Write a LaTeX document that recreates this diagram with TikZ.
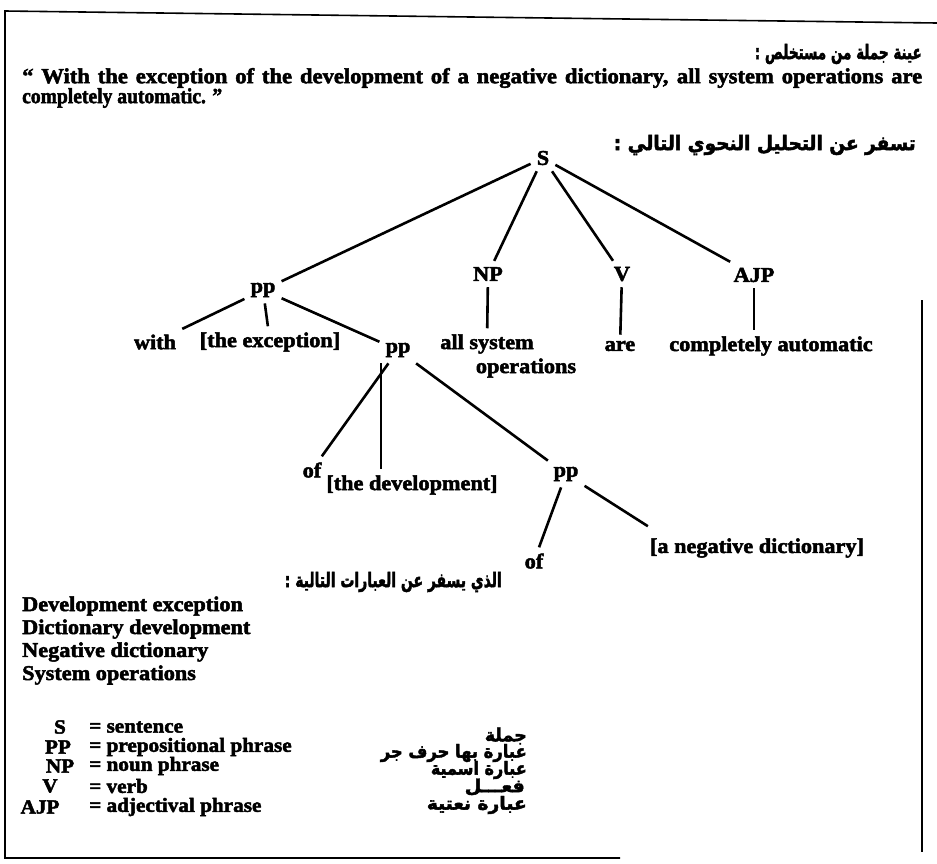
\documentclass[tikz,border=0pt]{standalone}
\usepackage{fontspec}
\usepackage{graphicx}
\setmainfont{Liberation Serif}[FakeStretch=1.06, FakeBold=2.4]
\newfontfamily\qfont{Liberation Serif}[FakeStretch=1.05, FakeBold=2.4]
\newfontfamily\arabicfont[Script=Arabic, FakeBold=2.4]{DejaVu Sans}
\TeXXeTstate=1
\newcommand{\arw}[2]{\resizebox{#1}{\height}{\arabicfont\bfseries #2}}
\begin{document}
\begin{tikzpicture}[x=1pt,y=-1pt,
  every node/.style={font=\fontsize{21}{23}\selectfont\bfseries, inner sep=0pt},
  lbl/.style={inner sep=6pt},
  edge/.style={line width=2.6pt},
  frame/.style={line width=1.6pt},
  quote/.style={font=\fontsize{21.5}{23}\selectfont\qfont\bfseries, anchor=west},
  ar/.style={font=\fontsize{20}{22}\selectfont, anchor=east},
  arl/.style={font=\fontsize{18}{20}\selectfont, anchor=east}]
\useasboundingbox (0,0) rectangle (937,863);
% frame
\coordinate (f1) at (5,11);
\coordinate (f2) at (937,23);
\coordinate (f3) at (5,858);
\coordinate (f4) at (620,858);
\coordinate (f5) at (922,300);
\coordinate (f6) at (922,852);
\draw[frame] (f2) -- (f1) -- (f3) -- (f4);
\draw[frame] (f5) -- (f6);
% header
\node[ar] (h1) at (922,54) {\arw{167pt}{\beginR عينة جملة من مستخلص :\endR}};
\node[quote] (q1) at (22,78) {\makebox[900pt][s]{“ With the exception of the development of a negative dictionary, all system operations are}};
\node[quote] (q2) at (22,98) {\resizebox{200pt}{\height}{completely automatic. ”}};
\node[ar] (h2) at (916,145) {\arw{302pt}{\beginR تسفر عن التحليل النحوي التالي :\endR}};
% tree
\node[lbl] (S) at (543,158) {S};
\node[lbl] (pp1) at (263,290) {pp};
\node[lbl] (NP) at (488,274) {NP};
\node[lbl] (V) at (622,274) {V};
\node[lbl] (AJP) at (754,275) {AJP};
\node[lbl] (with) at (155,342) {with};
\node[lbl] (exc) at (270,342) {[the exception]};
\node[lbl] (pp2) at (398,350) {pp};
\node[lbl] (alls) at (487,344) {all system};
\node (ops) at (526,368) {operations};
\node[lbl] (are) at (620,346) {are};
\node[lbl] (ca) at (771,346) {completely automatic};
\node[lbl] (of1) at (312,470) {of};
\node[lbl] (dev) at (412,485) {[the development]};
\node[lbl] (pp3) at (566,474) {pp};
\node[lbl] (of2) at (534,561) {of};
\node[lbl] (neg) at (757,548) {[a negative dictionary]};
\draw[edge] (S) -- (pp1);
\draw[edge] (S) -- (NP);
\draw[edge] (S) -- (V);
\draw[edge] (S) -- (AJP);
\draw[edge] (pp1) -- (with);
\draw[edge] (pp1) -- (exc);
\draw[edge] (pp1) -- (pp2);
\draw[edge] (NP) -- (alls);
\draw[edge] (V) -- (are);
\draw[edge] (AJP.south) -- (AJP.south |- ca.north);
\draw[edge] (pp2) -- (of1);
\draw[edge] ([xshift=-17pt]pp2.south) -- ([xshift=-17pt]pp2.south |- dev.north);
\draw[edge] (pp2) -- (pp3);
\draw[edge] (pp3) -- (of2);
\draw[edge] (pp3) -- ([xshift=4pt,yshift=6pt]neg.north west);
% phrases
\node[ar] (h3) at (502,582) {\arw{217pt}{\beginR الذي يسفر عن العبارات التالية :\endR}};
\node[anchor=west] (l1) at (22,606) {Development exception};
\node[anchor=west] (l2) at (22,629) {Dictionary development};
\node[anchor=west] (l3) at (22,652) {Negative dictionary};
\node[anchor=west] (l4) at (22,675) {System operations};
% legend
\begin{scope}[every node/.style={font=\fontsize{20}{22}\selectfont\bfseries, inner sep=0pt}]
\node (kS) at (60,727) {S};
\node (kPP) at (58,747) {PP};
\node (kNP) at (60,766) {NP};
\node (kV) at (50,786) {V};
\node (kAJP) at (40,807) {AJP};
\node[anchor=west] (dS) at (89,727) {= sentence};
\node[anchor=west] (dPP) at (89,747) {= prepositional phrase};
\node[anchor=west] (dNP) at (89,766) {= noun phrase};
\node[anchor=west] (dV) at (89,786) {= verb};
\node[anchor=west] (dAJP) at (89,807) {= adjectival phrase};
\end{scope}
\node[arl] (a1) at (527,736) {\arw{42pt}{\beginR جملة\endR}};
\node[arl] (a2) at (527,753) {\arw{146pt}{\beginR عبارة بها حرف جر\endR}};
\node[arl] (a3) at (527,770) {\arw{96pt}{\beginR عبارة اسمية\endR}};
\node[arl] (a4) at (525,787) {\arw{60pt}{\beginR فعـــل\endR}};
\node[arl] (a5) at (527,805) {\arw{100pt}{\beginR عبارة نعتية\endR}};
\end{tikzpicture}
\end{document}
